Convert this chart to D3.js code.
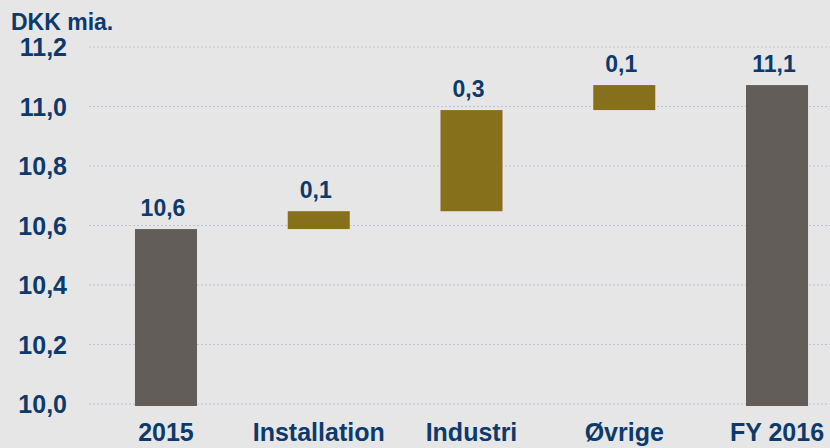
<!DOCTYPE html>
<html>
    <head>
        <meta charset="utf-8">
        <script src="https://d3js.org/d3.v7.min.js"></script>
        <style>
            body{margin:0;background:#e6e6e6;}
            text{font-family:"Liberation Sans", Arial, sans-serif;font-weight:bold;fill:#0d3a6b;}
        </style>
    </head>
    <body>
        <svg height="448" width="830" id="chart"></svg>
        <script>
            // waterfall data, DKK mia.
            const categories=["2015", "Installation", "Industri", "Øvrige", "FY 2016"];
            const barStart=[10.0, 10.588, 10.648, 10.988, 10.0];
            const barEnd=[10.588, 10.648, 10.988, 11.072, 11.072];
            const barKind=["total", "delta", "delta", "delta", "total"];
            const valueLabels=["10,6", "0,1", "0,3", "0,1", "11,1"];
            const yTicks=[10.0, 10.2, 10.4, 10.6, 10.8, 11.0, 11.2];

            let svg=d3.select("#chart");
            svg.append("rect").attr("width", 830).attr("height", 448).attr("fill", "#e6e6e6");

            let x=d3.scaleBand()
                .domain(categories)
                .range([89.6, 853.4])
                .paddingInner(0.594)
                .paddingOuter(0.297);
            let y=d3.scaleLinear()
                .domain([10.0, 11.2])
                .range([404, 47]);

            // dotted gridlines
            svg.append("g").selectAll("line").data(yTicks)
                .join("line")
                .attr("x1", 89).attr("x2", 830)
                .attr("y1", d=>y(d)).attr("y2", d=>y(d))
                .attr("stroke", "#c0c2d2")
                .attr("stroke-width", 1.2)
                .attr("stroke-dasharray", "2,2");

            // y axis labels
            svg.append("g").selectAll("text").data(yTicks)
                .join("text")
                .attr("x", 67)
                .attr("y", d=>y(d))
                .attr("dy", "0.36em")
                .attr("text-anchor", "end")
                .style("font-size", "25px")
                .text(d=>d3.format(".1f")(d).replace(".", ","));

            svg.append("text")
                .attr("x", 11).attr("y", 30)
                .style("font-size", "23px")
                .text("DKK mia.");

            let bars=categories.map((c, i)=>({cat:c, lo:barStart[i], hi:barEnd[i], kind:barKind[i], label:valueLabels[i]}));

            svg.append("g").selectAll("rect").data(bars)
                .join("rect")
                .attr("x", d=>x(d.cat))
                .attr("width", x.bandwidth())
                .attr("y", d=>y(d.hi))
                .attr("height", d=>y(d.lo)-y(d.hi)+(d.kind=="total"?2:0))
                .attr("fill", d=>d.kind=="total"?"#625d59":"#86701c");

            svg.append("g").selectAll("text").data(bars)
                .join("text")
                .attr("x", d=>x(d.cat)+x.bandwidth()/2-3)
                .attr("y", d=>y(d.hi)-13)
                .attr("text-anchor", "middle")
                .style("font-size", "23px")
                .text(d=>d.label);

            // category labels
            svg.append("g").selectAll("text").data(categories)
                .join("text")
                .attr("x", d=>x(d)+x.bandwidth()/2)
                .attr("y", 441)
                .attr("text-anchor", "middle")
                .style("font-size", "25px")
                .text(d=>d);
        </script>
    </body>
</html>
